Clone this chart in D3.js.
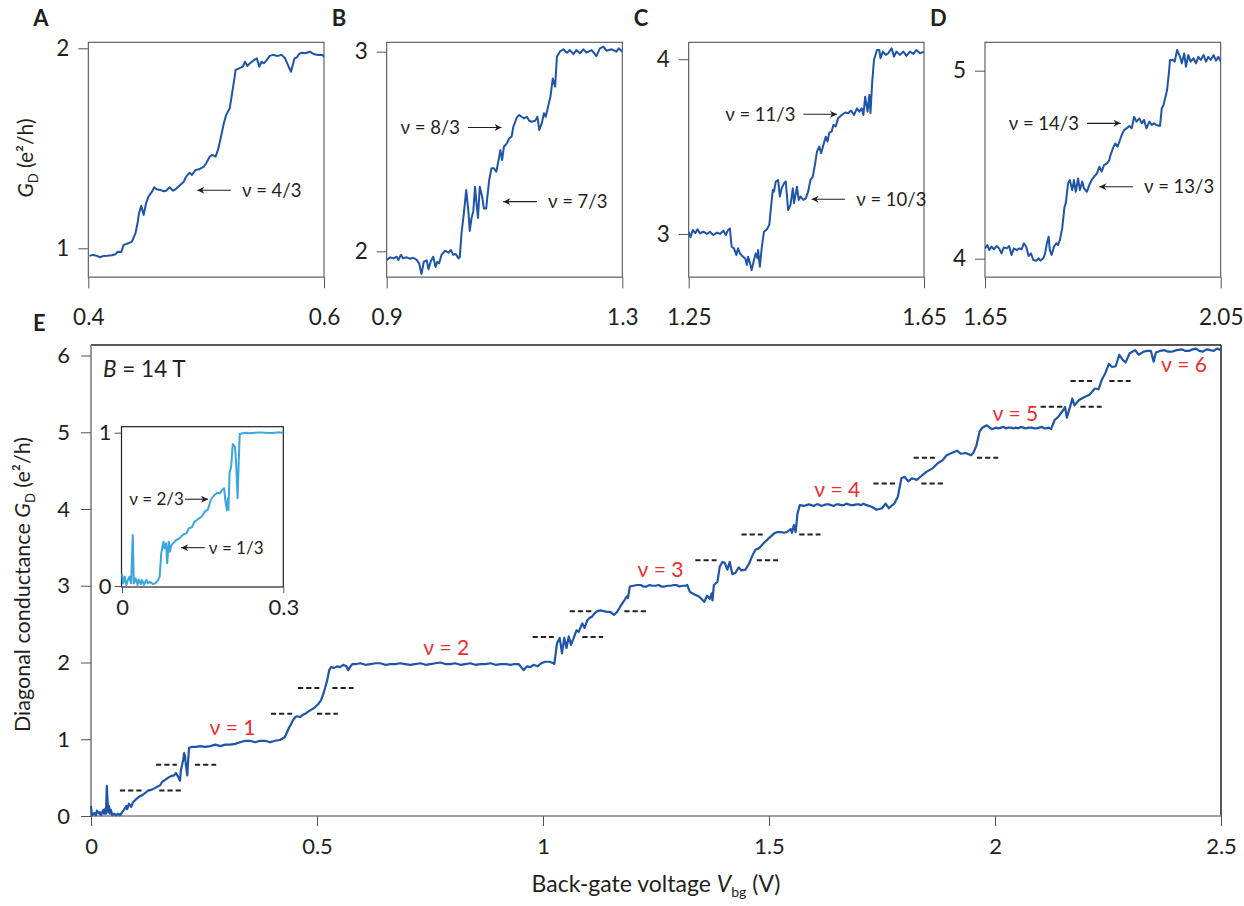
<!DOCTYPE html>
<html><head><meta charset="utf-8">
<script src="https://cdn.jsdelivr.net/npm/d3@7"></script>
<style>
body{margin:0;background:#fff;}
svg text{font-family:"Myriad Pro","Lato","Open Sans",sans-serif;fill:#231f20;}
</style></head><body>
<svg id="c" width="1244" height="906"></svg>
<script>
// ---------------- DATA ----------------
// Panel E: main trace [Vbg (V), G_D (e^2/h)]
const mainTrace = [
[0.000,0.13],[0.002,0.01],[0.007,0.04],[0.011,0.01],[0.013,0.07],[0.018,0.03],[0.020,0.05],[0.022,0.01],[0.027,0.08],[0.029,0.03],[0.031,0.09],[0.033,0.03],[0.035,0.39],[0.038,0.05],[0.040,0.13],[0.042,0.03],[0.044,0.08],[0.047,0.01],[0.051,0.03],[0.055,0.01],[0.060,0.03],[0.064,0.01],[0.069,0.05],[0.073,0.08],[0.078,0.13],[0.080,0.09],[0.084,0.16],[0.089,0.12],[0.093,0.18],[0.100,0.22],[0.106,0.25],[0.113,0.27],[0.120,0.30],[0.126,0.33],[0.133,0.34],[0.140,0.36],[0.146,0.38],[0.153,0.40],[0.157,0.44],[0.164,0.47],[0.171,0.50],[0.177,0.52],[0.184,0.53],[0.188,0.56],[0.193,0.51],[0.195,0.48],[0.197,0.46],[0.199,0.60],[0.204,0.73],[0.206,0.82],[0.208,0.78],[0.210,0.66],[0.213,0.53],[0.215,0.73],[0.217,0.89],[0.224,0.90],[0.233,0.90],[0.241,0.91],[0.252,0.90],[0.264,0.91],[0.275,0.93],[0.286,0.91],[0.297,0.93],[0.308,0.93],[0.319,0.94],[0.330,0.96],[0.341,0.98],[0.352,0.98],[0.363,0.96],[0.374,0.98],[0.385,0.98],[0.396,0.96],[0.407,0.98],[0.418,0.99],
[0.429,1.03],[0.438,1.15],[0.443,1.20],[0.447,1.25],[0.452,1.29],[0.456,1.30],[0.463,1.29],[0.469,1.32],[0.476,1.34],[0.483,1.37],[0.489,1.39],[0.496,1.42],[0.503,1.46],[0.509,1.51],[0.514,1.59],[0.518,1.67],[0.523,1.78],[0.527,1.90],[0.531,1.94],[0.538,1.93],[0.545,1.95],[0.551,1.94],[0.558,1.97],[0.565,1.95],[0.569,1.90],[0.573,1.94],[0.578,1.98],[0.587,1.98],[0.596,1.99],[0.607,1.97],[0.618,1.98],[0.629,1.99],[0.640,1.99],[0.651,1.97],[0.662,1.98],[0.673,1.98],[0.684,1.99],[0.695,1.98],[0.706,1.97],[0.717,1.98],[0.729,1.99],[0.740,1.97],[0.751,1.98],[0.762,1.99],[0.773,2.00],[0.784,1.98],[0.795,1.98],[0.806,1.99],[0.817,1.97],[0.828,1.98],[0.839,1.99],[0.850,1.97],[0.861,1.98],[0.872,1.98],[0.884,1.99],[0.895,1.97],[0.906,1.98],[0.917,1.98],[0.928,1.97],[0.937,1.98],[0.946,1.98],
[0.957,1.90],[0.965,1.95],[0.972,1.94],[0.979,1.97],[0.988,1.95],[0.996,1.99],[1.005,2.01],[1.014,2.01],[1.023,1.99],[1.025,1.98],[1.031,2.25],[1.037,2.32],[1.042,2.12],[1.047,2.32],[1.052,2.19],[1.057,2.34],[1.062,2.23],[1.068,2.32],[1.074,2.42],[1.079,2.40],[1.087,2.51],[1.092,2.45],[1.098,2.55],[1.103,2.58],[1.109,2.60],[1.114,2.64],[1.120,2.67],[1.127,2.68],[1.134,2.67],[1.142,2.66],[1.149,2.66],[1.157,2.62],[1.164,2.66],[1.171,2.73],[1.180,2.81],[1.185,2.86],[1.188,2.84],[1.192,2.99],[1.200,3.00],[1.208,3.01],[1.216,3.01],[1.222,2.99],[1.229,2.99],[1.236,3.01],[1.242,3.00],[1.249,3.00],[1.256,3.01],[1.262,2.99],[1.269,2.99],[1.276,3.00],[1.282,3.00],[1.289,3.01],[1.295,3.01],[1.302,2.99],[1.309,3.00],[1.315,3.00],[1.319,3.01],
[1.325,2.92],[1.334,2.89],[1.345,2.86],[1.352,2.82],[1.357,2.79],[1.363,2.87],[1.369,2.83],[1.373,2.90],[1.375,2.81],[1.378,3.01],[1.386,3.05],[1.391,3.25],[1.397,3.31],[1.402,3.30],[1.408,3.21],[1.413,3.31],[1.419,3.15],[1.426,3.17],[1.433,3.24],[1.439,3.20],[1.448,3.21],[1.456,3.29],[1.463,3.39],[1.470,3.47],[1.478,3.49],[1.489,3.56],[1.500,3.62],[1.511,3.68],[1.519,3.70],[1.526,3.70],[1.533,3.69],[1.540,3.70],[1.548,3.74],[1.551,3.69],[1.555,3.79],[1.559,3.70],[1.563,3.94],[1.568,4.05],[1.577,4.04],[1.588,4.06],[1.594,4.05],[1.599,4.04],[1.605,4.06],[1.610,4.06],[1.616,4.04],[1.621,4.05],[1.627,4.06],[1.632,4.06],[1.638,4.05],[1.643,4.04],[1.649,4.06],[1.654,4.06],[1.660,4.05],[1.665,4.05],[1.671,4.07],[1.676,4.06],[1.682,4.05],[1.687,4.05],[1.693,4.06],[1.698,4.06],[1.704,4.05],[1.709,4.07],[1.716,4.05],
[1.727,4.03],[1.738,3.99],[1.750,4.01],[1.758,4.07],[1.765,4.01],[1.777,4.07],[1.785,4.16],[1.793,4.40],[1.800,4.42],[1.808,4.36],[1.816,4.40],[1.827,4.38],[1.839,4.44],[1.850,4.49],[1.862,4.53],[1.874,4.60],[1.885,4.64],[1.893,4.70],[1.904,4.73],[1.916,4.76],[1.924,4.72],[1.935,4.73],[1.947,4.70],[1.952,4.73],[1.959,4.83],[1.966,5.01],[1.972,5.06],[1.982,5.09],[1.993,5.04],[2.002,5.06],[2.008,5.05],[2.013,5.06],[2.019,5.07],[2.024,5.05],[2.030,5.06],[2.035,5.06],[2.041,5.05],[2.046,5.06],[2.052,5.05],[2.057,5.07],[2.063,5.06],[2.068,5.05],[2.075,5.06],[2.081,5.06],[2.087,5.05],[2.092,5.05],[2.098,5.06],[2.104,5.07],[2.109,5.05],[2.113,5.05],[2.119,5.06],[2.124,5.04],
[2.132,5.16],[2.140,5.20],[2.151,5.29],[2.155,5.33],[2.159,5.19],[2.167,5.35],[2.171,5.44],[2.176,5.35],[2.186,5.42],[2.198,5.46],[2.209,5.49],[2.221,5.57],[2.229,5.56],[2.236,5.68],[2.244,5.77],[2.252,5.89],[2.259,5.85],[2.267,5.86],[2.275,6.01],[2.283,5.94],[2.289,5.91],[2.298,6.03],[2.310,6.07],[2.318,6.01],[2.329,6.05],[2.337,6.06],[2.345,6.06],[2.351,5.92],[2.356,6.04],[2.365,6.06],[2.375,6.07],[2.383,6.05],[2.391,6.05],[2.402,6.07],[2.414,6.08],[2.421,6.06],[2.429,6.06],[2.437,6.08],[2.445,6.09],[2.452,6.06],[2.460,6.05],[2.468,6.08],[2.476,6.07],[2.484,6.06],[2.491,6.09],[2.500,6.07]
];
// Inset trace
const insetTrace = [
[0.000,0.083],[0.002,0.017],[0.005,0.061],[0.008,0.007],[0.011,0.039],[0.014,0.061],[0.017,0.017],[0.020,0.333],[0.022,0.017],[0.025,0.050],[0.029,0.007],[0.031,0.043],[0.035,0.013],[0.037,0.039],[0.041,0.007],[0.045,0.039],[0.048,0.017],[0.052,0.028],[0.057,0.013],[0.062,0.017],[0.067,0.039],[0.070,0.061],[0.073,0.213],[0.077,0.289],[0.079,0.246],[0.082,0.278],[0.084,0.148],[0.087,0.289],[0.089,0.224],[0.092,0.267],[0.095,0.278],[0.101,0.300],[0.107,0.311],[0.113,0.333],[0.120,0.343],[0.124,0.376],[0.130,0.383],[0.135,0.420],[0.141,0.435],[0.148,0.452],[0.154,0.485],[0.160,0.500],[0.164,0.550],[0.168,0.578],[0.172,0.593],[0.177,0.609],[0.182,0.604],[0.186,0.626],[0.190,0.637],[0.192,0.561],[0.195,0.496],[0.197,0.570],[0.198,0.496],[0.200,0.735],[0.203,0.778],[0.206,0.926],[0.210,0.909],[0.212,0.822],[0.215,0.572],[0.217,0.800],[0.219,0.991],[0.225,0.996],[0.231,1.000],[0.237,0.996],[0.247,1.000],[0.256,1.002],[0.265,1.000],[0.278,0.998],[0.290,1.002],[0.300,1.000]
];
// Panel A
const traceA = [
[0.401,0.962],[0.404,0.967],[0.407,0.963],[0.410,0.955],[0.413,0.962],[0.416,0.963],[0.420,0.965],[0.423,0.970],[0.425,0.983],[0.428,0.982],[0.430,1.017],[0.434,1.025],[0.437,1.033],[0.440,1.075],[0.442,1.133],[0.443,1.175],[0.445,1.212],[0.447,1.167],[0.449,1.225],[0.451,1.258],[0.454,1.283],[0.456,1.305],[0.458,1.295],[0.461,1.292],[0.464,1.285],[0.466,1.288],[0.469,1.305],[0.472,1.288],[0.474,1.295],[0.478,1.317],[0.481,1.333],[0.483,1.358],[0.486,1.378],[0.488,1.367],[0.491,1.392],[0.494,1.395],[0.498,1.408],[0.500,1.425],[0.503,1.458],[0.505,1.467],[0.508,1.458],[0.510,1.492],[0.512,1.542],[0.515,1.625],[0.517,1.667],[0.520,1.700],[0.522,1.775],[0.524,1.850],[0.525,1.892],[0.528,1.900],[0.531,1.908],[0.533,1.933],[0.535,1.912],[0.537,1.925],[0.541,1.942],[0.543,1.950],[0.545,1.908],[0.547,1.933],[0.549,1.925],[0.551,1.938],[0.554,1.962],[0.557,1.967],[0.561,1.962],[0.564,1.967],[0.567,1.950],[0.570,1.908],[0.572,1.883],[0.575,1.950],[0.577,1.955],[0.579,1.972],[0.581,1.978],[0.584,1.975],[0.588,1.983],[0.591,1.972],[0.595,1.967],[0.599,1.967],[0.600,1.955]
];
// Panel B
const traceB = [
[0.900,1.957],[0.906,1.970],[0.911,1.965],[0.917,1.973],[0.920,1.957],[0.924,1.982],[0.928,1.965],[0.934,1.970],[0.940,1.963],[0.945,1.968],[0.951,1.957],[0.955,1.940],[0.959,1.886],[0.963,1.948],[0.968,1.955],[0.971,1.910],[0.975,1.952],[0.979,1.973],[0.983,1.922],[0.986,1.948],[0.989,1.940],[0.993,1.982],[0.999,2.003],[1.005,1.993],[1.009,2.007],[1.013,1.982],[1.017,1.987],[1.022,1.965],[1.024,1.970],[1.027,2.090],[1.031,2.190],[1.035,2.307],[1.039,2.190],[1.041,2.102],[1.044,2.167],[1.047,2.200],[1.050,2.324],[1.053,2.224],[1.055,2.167],[1.058,2.324],[1.062,2.275],[1.065,2.215],[1.069,2.215],[1.071,2.275],[1.074,2.357],[1.078,2.416],[1.082,2.416],[1.086,2.399],[1.090,2.457],[1.093,2.507],[1.096,2.457],[1.099,2.524],[1.104,2.541],[1.108,2.566],[1.112,2.574],[1.115,2.624],[1.121,2.671],[1.125,2.683],[1.129,2.674],[1.133,2.666],[1.138,2.674],[1.142,2.654],[1.146,2.649],[1.152,2.654],[1.156,2.674],[1.159,2.608],[1.163,2.638],[1.167,2.692],[1.170,2.674],[1.174,2.725],[1.178,2.775],[1.182,2.866],[1.186,2.825],[1.189,2.975],[1.194,3.000],[1.200,3.012],[1.206,2.995],[1.211,3.008],[1.217,2.988],[1.222,3.008],[1.228,2.992],[1.234,3.012],[1.239,2.995],[1.248,3.008],[1.256,2.978],[1.262,3.017],[1.268,3.025],[1.273,3.005],[1.282,3.012],[1.290,3.000],[1.294,3.017],[1.300,3.000]
];
// Panel C
const traceC = [
[1.250,3.013],[1.253,2.981],[1.257,3.023],[1.261,3.004],[1.265,3.027],[1.269,3.004],[1.275,3.013],[1.281,3.000],[1.286,3.013],[1.292,2.994],[1.298,3.008],[1.303,3.000],[1.309,3.019],[1.313,2.994],[1.317,3.023],[1.320,3.032],[1.323,2.927],[1.327,2.918],[1.331,2.880],[1.334,2.918],[1.337,2.889],[1.342,2.870],[1.346,2.861],[1.349,2.823],[1.351,2.870],[1.354,2.836],[1.357,2.794],[1.361,2.851],[1.364,2.889],[1.367,2.861],[1.368,2.908],[1.371,2.813],[1.374,2.918],[1.378,3.013],[1.383,3.027],[1.387,3.052],[1.390,3.156],[1.393,3.252],[1.395,3.242],[1.398,3.300],[1.402,3.309],[1.405,3.214],[1.408,3.261],[1.412,3.290],[1.415,3.300],[1.419,3.137],[1.423,3.166],[1.427,3.261],[1.429,3.176],[1.434,3.271],[1.437,3.195],[1.440,3.214],[1.445,3.195],[1.449,3.204],[1.453,3.242],[1.457,3.309],[1.461,3.328],[1.465,3.405],[1.468,3.471],[1.472,3.500],[1.475,3.462],[1.479,3.510],[1.483,3.557],[1.486,3.529],[1.489,3.580],[1.493,3.586],[1.496,3.624],[1.500,3.615],[1.504,3.662],[1.510,3.681],[1.516,3.695],[1.521,3.691],[1.526,3.706],[1.531,3.681],[1.536,3.719],[1.540,3.700],[1.544,3.719],[1.547,3.681],[1.550,3.786],[1.554,3.700],[1.557,3.796],[1.559,3.691],[1.562,3.872],[1.565,3.996],[1.570,4.053],[1.574,4.053],[1.576,4.006],[1.580,4.044],[1.585,4.025],[1.589,4.034],[1.595,4.063],[1.599,4.015],[1.603,4.044],[1.609,4.025],[1.615,4.044],[1.620,4.019],[1.626,4.044],[1.632,4.031],[1.637,4.053],[1.643,4.034],[1.650,4.044]
];
// Panel D
const traceD = [
[1.650,4.055],[1.654,4.073],[1.657,4.046],[1.661,4.064],[1.665,4.050],[1.670,4.067],[1.674,4.055],[1.678,4.028],[1.682,4.060],[1.687,4.055],[1.691,4.067],[1.695,4.020],[1.699,4.055],[1.704,4.046],[1.708,4.055],[1.712,4.050],[1.716,4.082],[1.720,4.064],[1.724,4.014],[1.728,4.028],[1.732,3.993],[1.737,3.989],[1.741,4.002],[1.744,3.989],[1.749,4.002],[1.752,4.028],[1.755,4.082],[1.758,4.117],[1.760,4.046],[1.763,4.020],[1.767,4.064],[1.771,4.082],[1.774,4.073],[1.777,4.099],[1.781,4.161],[1.785,4.277],[1.787,4.294],[1.791,4.401],[1.794,4.418],[1.798,4.365],[1.801,4.418],[1.804,4.356],[1.808,4.427],[1.811,4.365],[1.815,4.410],[1.818,4.374],[1.823,4.356],[1.827,4.392],[1.831,4.418],[1.835,4.436],[1.840,4.454],[1.844,4.489],[1.848,4.463],[1.852,4.498],[1.857,4.507],[1.861,4.525],[1.863,4.551],[1.867,4.587],[1.871,4.613],[1.875,4.596],[1.878,4.622],[1.882,4.658],[1.886,4.684],[1.890,4.693],[1.895,4.706],[1.899,4.693],[1.903,4.755],[1.907,4.729],[1.912,4.746],[1.916,4.720],[1.920,4.738],[1.924,4.693],[1.929,4.729],[1.933,4.711],[1.937,4.720],[1.941,4.711],[1.947,4.706],[1.950,4.800],[1.953,4.817],[1.957,4.871],[1.959,4.897],[1.962,4.986],[1.964,5.057],[1.969,5.057],[1.972,5.048],[1.976,5.110],[1.981,5.074],[1.984,5.039],[1.988,5.092],[1.991,5.021],[1.995,5.083],[1.999,5.048],[2.004,5.066],[2.008,5.039],[2.012,5.074],[2.016,5.057],[2.021,5.083],[2.025,5.048],[2.029,5.074],[2.033,5.057],[2.038,5.083],[2.042,5.053],[2.046,5.074],[2.050,5.048]
];
// Fractional levels and dashed markers (Vbg start/end of left and right groups)
const fracLevels = [0.333,0.667,1.333,1.667,2.333,2.667,3.333,3.667,4.333,4.667,5.333,5.667];
const dashLeft  = [[0.064,0.113],[0.144,0.190],[0.398,0.445],[0.458,0.505],[0.977,1.024],[1.059,1.107],[1.337,1.384],[1.439,1.486],[1.731,1.779],[1.820,1.867],[2.101,2.151],[2.167,2.215]];
const dashRight = [[0.151,0.199],[0.230,0.277],[0.500,0.546],[0.534,0.581],[1.087,1.133],[1.180,1.228],[1.473,1.520],[1.567,1.614],[1.837,1.885],[1.960,2.007],[2.189,2.236],[2.253,2.300]];
// Integer filling-factor labels (centre Vbg, baseline G)
const nuLabels = ["ν = 1","ν = 2","ν = 3","ν = 4","ν = 5","ν = 6"];
const nuLabelX = [0.313,0.786,1.260,1.651,2.045,2.418];
const nuLabelY = [1.055,2.10,3.11,4.16,5.15,5.79];
// Tick values
const mainXTicks = [0,0.5,1,1.5,2,2.5];
const mainYTicks = [0,1,2,3,4,5,6];
const insetXTicks = [0,0.3];
const insetYTicks = [0,1];
// Small panels
const panelNames = ["A","B","C","D"];
const panelXDomains = [[0.4,0.6],[0.9,1.3],[1.25,1.65],[1.65,2.05]];
const panelYDomains = [[0.855,2.03],[1.870,3.047],[2.752,4.097],[3.901,5.151]];
const panelYTicks = [[1,2],[2,3],[3,4],[4,5]];
const panelTraces = [traceA,traceB,traceC,traceD];
// Annotations: [text, arrow x1, arrow x2, y, text side]
const panelNotes = [
  [["ν = 4/3",0.521,0.4925,1.29,"right"]],
  [["ν = 8/3",1.038,1.095,2.62,"left"],["ν = 7/3",1.155,1.098,2.249,"right"]],
  [["ν = 11/3",1.445,1.502,3.685,"left"],["ν = 10/3",1.516,1.459,3.199,"right"]],
  [["ν = 14/3",1.823,1.880,4.72,"left"],["ν = 13/3",1.901,1.844,4.383,"right"]]
];
const insetNotes = [["ν = 2/3",0.117,0.160,0.566,"left"],["ν = 1/3",0.154,0.110,0.25,"right"]];

// ---------------- DRAW ----------------
const svg = d3.select("#c");
const TXT = "#231f20";
const defs = svg.append("defs");
defs.append("marker").attr("id","arr").attr("viewBox","0 0 10 10")
  .attr("refX",10).attr("refY",5).attr("markerWidth",9).attr("markerHeight",7)
  .attr("markerUnits","userSpaceOnUse").attr("orient","auto")
  .append("path").attr("d","M0,0 L10,5 L0,10 L3,5 z").attr("fill",TXT);

function styleAxis(g, fs){
  g.select(".domain").remove();
  g.selectAll(".tick line").attr("stroke","#555").attr("stroke-width",1);
  g.selectAll(".tick text").attr("font-size",fs).attr("fill",TXT)
    .style("font-family",'"Myriad Pro","Lato","Open Sans",sans-serif');
}

function drawNotes(g, notes, x, y, fs, gapR, gapL){
  notes.forEach(n=>{
    const [t,x1,x2,yy,side]=n;
    g.append("line").attr("x1",x(x1)).attr("x2",x(x2)).attr("y1",y(yy)).attr("y2",y(yy))
      .attr("stroke",TXT).attr("stroke-width",1.1).attr("marker-end","url(#arr)");
    const tx = side==="right" ? x(x1)+gapR : x(x1)-gapL;
    g.append("text").attr("x",tx).attr("y",y(yy)).attr("dy","0.35em")
      .attr("text-anchor",side==="right"?"start":"end").attr("font-size",fs).text(t);
  });
}

// ---- small panels ----
const pLeft = [88.3,386.7,688.7,985];
const pRight= [324,622.3,924,1220.7];
const pTop = 42.3, pBot = 277.3;
panelNames.forEach((nm,i)=>{
  const x = d3.scaleLinear().domain(panelXDomains[i]).range([pLeft[i],pRight[i]]);
  const y = d3.scaleLinear().domain(panelYDomains[i]).range([pBot,pTop]);
  const g = svg.append("g");
  const cid = "clip"+nm;
  defs.append("clipPath").attr("id",cid).append("rect")
    .attr("x",pLeft[i]).attr("y",pTop).attr("width",pRight[i]-pLeft[i]).attr("height",pBot-pTop);
  g.append("rect").attr("x",pLeft[i]).attr("y",pTop).attr("width",pRight[i]-pLeft[i]).attr("height",pBot-pTop)
    .attr("fill","none").attr("stroke","#444").attr("stroke-width",1);
  g.append("line").attr("x1",pLeft[i]).attr("x2",pRight[i]).attr("y1",pBot).attr("y2",pBot)
    .attr("stroke","#8a8a8a").attr("stroke-width",1.6);
  const ya = g.append("g").attr("transform",`translate(${pLeft[i]},0)`)
    .call(d3.axisLeft(y).tickValues(panelYTicks[i]).tickSize(10).tickPadding(9).tickFormat(d=>String(d)));
  styleAxis(ya, 22.5);
  const xa = g.append("g").attr("transform",`translate(0,${pBot})`)
    .call(d3.axisBottom(x).tickValues(panelXDomains[i]).tickSize(11).tickPadding(21).tickFormat(d=>String(d)));
  styleAxis(xa, 22.5);
  g.append("path").datum(panelTraces[i]).attr("clip-path",`url(#${cid})`)
    .attr("fill","none").attr("stroke","#1f55a8").attr("stroke-width",2).attr("stroke-linejoin","round")
    .attr("d",d3.line().x(d=>x(d[0])).y(d=>y(d[1])));
  drawNotes(g, panelNotes[i], x, y, 18.5, 11, 8);
  g.append("text").attr("x",pLeft[i]-55).attr("y",26).attr("font-size",22).attr("font-weight","bold").text(nm);
});
// y label for panel A
{
  const t = svg.append("text").attr("transform","translate(33,158) rotate(-90)")
    .attr("text-anchor","middle").attr("font-size",21);
  t.append("tspan").attr("font-style","italic").text("G");
  t.append("tspan").attr("font-size",13).attr("dy",5).text("D");
  t.append("tspan").attr("dy",-5).text(" (e²/h)");
}

// ---- main panel E ----
const mL=91, mR=1221, mT=345, mB=816;
const X = d3.scaleLinear().domain([0,2.5]).range([mL,mR]);
const Y = d3.scaleLinear().domain([0,6.137]).range([mB,mT]);
const E = svg.append("g");
E.append("line").attr("x1",mL).attr("x2",mR).attr("y1",mT).attr("y2",mT).attr("stroke","#231f20").attr("stroke-width",1.5);
E.append("line").attr("x1",mR).attr("x2",mR).attr("y1",mT).attr("y2",mB).attr("stroke","#231f20").attr("stroke-width",1.5);
E.append("line").attr("x1",mL).attr("x2",mL).attr("y1",mT).attr("y2",mB).attr("stroke","#808080").attr("stroke-width",1.6);
E.append("line").attr("x1",mL).attr("x2",mR).attr("y1",mB).attr("y2",mB).attr("stroke","#808080").attr("stroke-width",1.6);
const ey = E.append("g").attr("transform",`translate(${mL},0)`)
  .call(d3.axisLeft(Y).tickValues(mainYTicks).tickSize(10).tickPadding(11).tickFormat(d=>String(d)));
styleAxis(ey, 22);
const ex = E.append("g").attr("transform",`translate(0,${mB})`)
  .call(d3.axisBottom(X).tickValues(mainXTicks).tickSize(10).tickPadding(12).tickFormat(d=>String(d)));
styleAxis(ex, 22);
svg.append("text").attr("x",33).attr("y",331).attr("font-size",22).attr("font-weight","bold").text("E");

// dashed fractional markers
fracLevels.forEach((lv,i)=>{
  [dashLeft[i],dashRight[i]].forEach(seg=>{
    E.append("line").attr("x1",X(seg[0])).attr("x2",X(seg[1])).attr("y1",Y(lv)).attr("y2",Y(lv))
      .attr("stroke","#231f20").attr("stroke-width",2).attr("stroke-dasharray","5.2,3");
  });
});
// main curve
E.append("path").datum(mainTrace).attr("fill","none").attr("stroke","#1f55a8")
  .attr("stroke-width",2.2).attr("stroke-linejoin","round")
  .attr("d",d3.line().x(d=>X(d[0])).y(d=>Y(d[1])));
// nu labels
nuLabels.forEach((t,i)=>{
  E.append("text").attr("x",X(nuLabelX[i])).attr("y",Y(nuLabelY[i])).attr("text-anchor","middle")
    .attr("font-size",21).style("fill","#ee2b2f").text(t);
});
// B = 14 T
{
  const t = E.append("text").attr("x",mL+12).attr("y",mT+32).attr("font-size",22.5);
  t.append("tspan").attr("font-style","italic").text("B");
  t.append("tspan").text(" = 14 T");
}
// y title
{
  const t = svg.append("text").attr("transform",`translate(30,${(mT+mB)/2+4}) rotate(-90)`)
    .attr("text-anchor","middle").attr("font-size",21.5);
  t.append("tspan").text("Diagonal conductance ");
  t.append("tspan").attr("font-style","italic").text("G");
  t.append("tspan").attr("font-size",13).attr("dy",5).text("D");
  t.append("tspan").attr("dy",-5).text(" (e²/h)");
}
// x title
{
  const t = svg.append("text").attr("x",(mL+mR)/2).attr("y",892).attr("text-anchor","middle").attr("font-size",23);
  t.append("tspan").text("Back-gate voltage ");
  t.append("tspan").attr("font-style","italic").text("V");
  t.append("tspan").attr("font-size",14).attr("dy",5).text("bg");
  t.append("tspan").attr("dy",-5).text(" (V)");
}

// ---- inset ----
const iL=121.5, iR=283.3, iT=426.7, iB=587;
const IX = d3.scaleLinear().domain([0,0.3]).range([122,283.3]);
const IY = d3.scaleLinear().domain([-0.0065,1.039]).range([iB,iT]);
const I = svg.append("g");
I.append("rect").attr("x",iL).attr("y",iT).attr("width",iR-iL).attr("height",iB-iT)
  .attr("fill","#fff").attr("stroke","#231f20").attr("stroke-width",1.2);
const iy = I.append("g").attr("transform",`translate(${iL},0)`)
  .call(d3.axisLeft(IY).tickValues(insetYTicks).tickSize(7).tickPadding(3).tickFormat(d=>String(d)));
styleAxis(iy, 22);
const ix = I.append("g").attr("transform",`translate(0,${iB})`)
  .call(d3.axisBottom(IX).tickValues(insetXTicks).tickSize(6).tickPadding(6).tickFormat(d=>String(d)));
styleAxis(ix, 22);
I.append("path").datum(insetTrace).attr("fill","none").attr("stroke","#3aa6e0")
  .attr("stroke-width",2).attr("stroke-linejoin","round")
  .attr("d",d3.line().x(d=>IX(d[0])).y(d=>IY(d[1])));
drawNotes(I, insetNotes, IX, IY, 17, 4, 1);
</script>
</body></html>
